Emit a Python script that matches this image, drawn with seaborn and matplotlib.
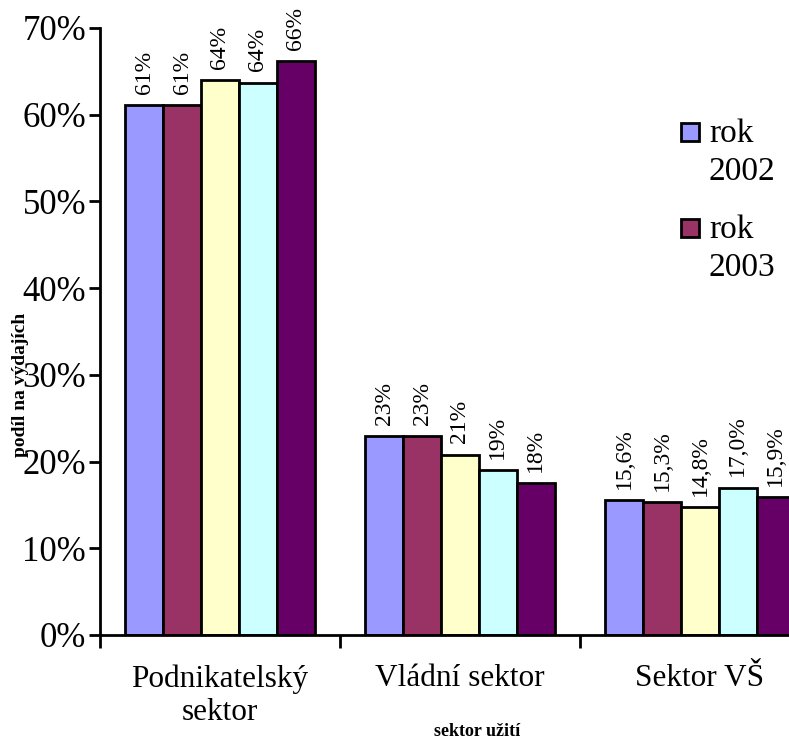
import pandas as pd
import seaborn as sns
import matplotlib.pyplot as plt
from matplotlib.patches import Rectangle

# Data
sectors = ["Podnikatelský\nsektor", "Vládní sektor", "Sektor VŠ"]
series = ["rok 2002", "rok 2003", "rok 2004", "rok 2005", "rok 2006"]
values = [
    [0.611, 0.229, 0.156],
    [0.611, 0.229, 0.153],
    [0.640, 0.208, 0.148],
    [0.637, 0.190, 0.170],
    [0.662, 0.175, 0.159],
]
labels = [
    ["61%", "23%", "15,6%"],
    ["61%", "23%", "15,3%"],
    ["64%", "21%", "14,8%"],
    ["64%", "19%", "17,0%"],
    ["66%", "18%", "15,9%"],
]
colors = ["#9999FF", "#993366", "#FFFFCC", "#CCFFFF", "#660066"]
legend_labels = ["rok\n2002", "rok\n2003"]

rows = []
for s, vals in zip(series, values):
    for sec, v in zip(sectors, vals):
        rows.append({"sektor": sec, "rok": s, "podil": v})
df = pd.DataFrame(rows)

sns.set_style("white")
plt.rcParams['font.family'] = ['Liberation Serif', 'DejaVu Serif']
plt.rcParams['text.color'] = 'black'
plt.rcParams['xtick.color'] = 'black'
plt.rcParams['ytick.color'] = 'black'

fig = plt.figure(figsize=(7.89, 7.38), dpi=100)
ax = fig.add_axes([0.1267, 0.1396, 0.9125, 0.8226])

sns.barplot(data=df, x="sektor", y="podil", hue="rok", order=sectors,
            hue_order=series, palette=colors, width=0.79, saturation=1,
            edgecolor="black", linewidth=2, legend=False, ax=ax)

# rotated value labels above each bar
for cont, labs in zip(ax.containers, labels):
    ax.bar_label(cont, labels=labs, rotation=90, padding=8, fontsize=17,
                 clip_on=False)

ax.set_ylim(0, 0.7)
ax.set_xlim(-0.5, 2.5)
ax.set_yticks([i / 10 for i in range(8)])
ax.set_yticklabels([f"{i * 10}%" for i in range(8)], fontsize=25)
ax.tick_params(axis="y", direction="out", length=8, width=2, left=True, pad=2)
ax.set_xticks(range(3))
ax.set_xticklabels(sectors, fontsize=22.5)
ax.tick_params(axis="x", which="major", length=0, pad=21)
ax.set_xticks([-0.5, 0.5, 1.5, 2.5], minor=True)
ax.tick_params(axis="x", which="minor", direction="out", length=9.5, width=2,
               bottom=True)
ax.set_xlabel("")
ax.set_ylabel("")
for side in ["top", "right"]:
    ax.spines[side].set_visible(False)
for side in ["left", "bottom"]:
    ax.spines[side].set_color("black")
    ax.spines[side].set_linewidth(2)

fig.text(0.026, 0.478, "podíl na výdajích", rotation=90, fontsize=14,
         fontweight="bold", ha="center", va="center")
fig.text(0.605, 1 - 731 / 738, "sektor užití", fontsize=13, fontweight="bold",
         ha="center", va="center")

# legend: only the first two entries are visible in the original
W, H = 789, 738
for i, lab in enumerate(legend_labels):
    top = 123 + i * 96
    fig.add_artist(Rectangle((681 / W, 1 - (top + 18) / H), 18 / W, 18 / H,
                             transform=fig.transFigure, facecolor=colors[i],
                             edgecolor="black", linewidth=2))
    fig.text(709 / W, 1 - (top - 5) / H, lab, fontsize=24, va="top",
             ha="left", linespacing=1.35)

fig.savefig("out.png", dpi=100)
